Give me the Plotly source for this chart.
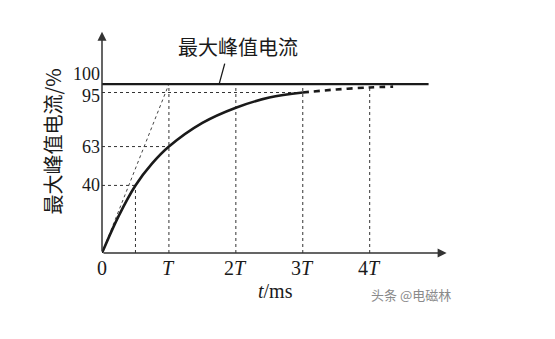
import plotly.graph_objects as go

# ---- data (t in units of T, current in % of max peak) ----
t_solid = [0, 0.25, 0.5, 0.75, 1.0, 1.5, 2.0, 2.5, 3.0]
i_solid = [0, 22, 40, 53, 63, 77, 86, 92, 95]
t_dash = [3.0, 3.5, 4.0, 4.35]
i_dash = [95, 96.8, 98, 98.5]
tangent_t = [0, 1]
tangent_i = [0, 100]
peak_level = 100
peak_end_t = 4.88
y_ticks = [40, 63, 95, 100]
y_ticklabels = ["40", "63", "95", "100"]
x_ticks = [0, 1, 2, 3, 4]
x_ticklabels = ["0", "<i>T</i>", "2<i>T</i>", "3<i>T</i>", "4<i>T</i>"]
t40 = 0.5  # time where the curve reaches 40 %
y_title = "最大峰值电流/%"
x_title = "<i>t</i>/ms"
peak_label = "最大峰值电流"
watermark = "头条 @电磁林"

SERIF = "Liberation Serif"
CJK = "Noto Sans CJK SC"
INK = "#1a1a1a"
AX = "#333333"

fig = go.Figure()

def dotted(xs, ys):
    fig.add_trace(go.Scatter(x=xs, y=ys, mode="lines",
                             line=dict(color="#333333", width=1, dash="dot"),
                             hoverinfo="skip", showlegend=False))

# guide lines
dotted([0, t40], [40, 40])
dotted([t40, t40], [0, 40])
dotted([0, 1], [63, 63])
dotted([0, 3], [95, 95])
for xv in [1, 2, 3, 4]:
    dotted([xv, xv], [0, peak_level])

# tangent
fig.add_trace(go.Scatter(x=tangent_t, y=tangent_i, mode="lines",
                         line=dict(color="#444444", width=1, dash="3px,3px"),
                         hoverinfo="skip", showlegend=False))
# peak line
fig.add_trace(go.Scatter(x=[0, peak_end_t], y=[peak_level, peak_level], mode="lines",
                         line=dict(color=INK, width=2.2),
                         hoverinfo="skip", showlegend=False))
# curve
fig.add_trace(go.Scatter(x=t_solid, y=i_solid, mode="lines", line_shape="spline",
                         line=dict(color=INK, width=2.6),
                         hoverinfo="skip", showlegend=False))
fig.add_trace(go.Scatter(x=t_dash, y=i_dash, mode="lines", line_shape="spline",
                         line=dict(color=INK, width=2.6, dash="6px,5px"),
                         hoverinfo="skip", showlegend=False))

ann = []
# axes with arrows
ann.append(dict(x=5.15, y=0, ax=0, ay=0, xref="x", yref="y", axref="x", ayref="y",
                showarrow=True, arrowhead=2, arrowsize=1.2, arrowwidth=1.5,
                arrowcolor=AX, text=""))
ann.append(dict(x=0, y=131, ax=0, ay=0, xref="x", yref="y", axref="x", ayref="y",
                showarrow=True, arrowhead=2, arrowsize=1.2, arrowwidth=1.5,
                arrowcolor=AX, text=""))
# y tick labels (the two top labels are spread apart so they stay legible)
y_nudge = {100: 10, 95: -3}
for v, lab in zip(y_ticks, y_ticklabels):
    ann.append(dict(x=0, y=v, xref="x", yref="y", text=lab, showarrow=False,
                    xanchor="right", yanchor="middle", xshift=-1,
                    yshift=y_nudge.get(v, 0), borderpad=0,
                    font=dict(family=SERIF, size=18, color=INK)))
# x tick labels
for v, lab in zip(x_ticks, x_ticklabels):
    ann.append(dict(x=v, y=0, xref="x", yref="y", text=lab, showarrow=False,
                    xanchor="center", yanchor="top", yshift=-2,
                    font=dict(family=SERIF, size=20, color=INK)))
# axis titles
ann.append(dict(x=2.59, y=0, xref="x", yref="y", text=x_title, showarrow=False,
                xanchor="center", yanchor="middle", yshift=-38,
                font=dict(family=SERIF, size=20, color=INK)))
ann.append(dict(x=0, y=66, xref="x", yref="y", text=y_title, showarrow=False,
                textangle=-90, xanchor="center", yanchor="middle", xshift=-50,
                font=dict(family=CJK, size=20, color=INK)))
# peak label with leader
ann.append(dict(x=2.03, y=122, xref="x", yref="y", text=peak_label, showarrow=False,
                xanchor="center", yanchor="middle",
                font=dict(family=CJK, size=20, color=INK)))
ann.append(dict(x=1.75, y=peak_level, ax=1.84, ay=113, xref="x", yref="y",
                axref="x", ayref="y", showarrow=True, arrowhead=0,
                arrowwidth=1.3, arrowcolor=INK, text=""))
# watermark
ann.append(dict(x=4.62, y=0, xref="x", yref="y", text=watermark, showarrow=False,
                xanchor="center", yanchor="middle", yshift=-41,
                font=dict(family=CJK, size=13, color="#8a8a8a")))

fig.update_layout(
    width=555, height=339,
    margin=dict(l=102, r=105, t=30, b=86),
    paper_bgcolor="white", plot_bgcolor="white",
    xaxis=dict(range=[0, 5.2], visible=False, fixedrange=True),
    yaxis=dict(range=[0, 132], visible=False, fixedrange=True),
    annotations=ann,
    showlegend=False,
)

fig.write_html("out.html", config={"displayModeBar": False})
